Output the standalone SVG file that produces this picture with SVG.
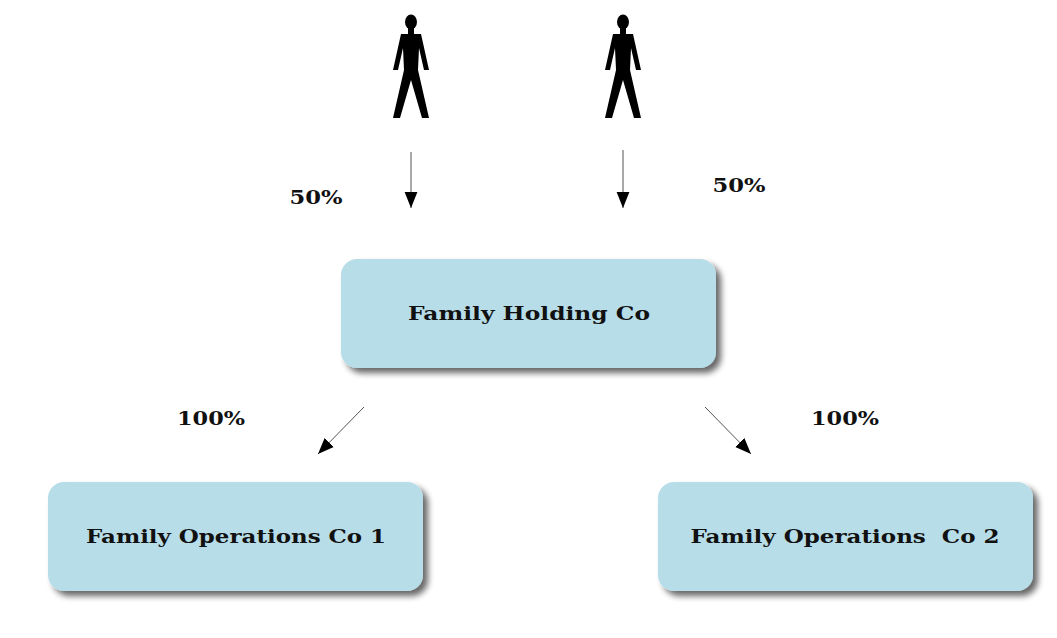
<svg xmlns="http://www.w3.org/2000/svg" width="1057" height="638" viewBox="0 0 1057 638">
<style>
text{font-family:"DejaVu Serif","Liberation Serif",serif;font-weight:bold;font-size:19px;fill:#111;text-anchor:middle}
.box{fill:#b7dde8}
.c{stroke:#555;stroke-width:1;fill:none;marker-end:url(#ah)}
</style>
<defs>
<marker id="ah" viewBox="0 0 10 10" refX="10" refY="5" markerWidth="16" markerHeight="16" markerUnits="userSpaceOnUse" orient="auto"><path d="M0,1 L10,5 L0,9 Z" fill="#000"/></marker>
<filter id="sh" x="-10%" y="-10%" width="130%" height="140%"><feGaussianBlur in="SourceAlpha" stdDeviation="3"/><feOffset dx="5" dy="5"/><feComponentTransfer><feFuncA type="linear" slope="0.6"/></feComponentTransfer><feMerge><feMergeNode/><feMergeNode in="SourceGraphic"/></feMerge></filter>
<g id="person"><ellipse cx="0" cy="7" rx="6" ry="7.5"/><rect x="-3" y="12" width="6" height="8"/><path d="M-10,19 L10,19 L18,55 L13,55 L8,33 L7,55 L18,103 L11,103 L0,65 L-11,103 L-18,103 L-7,55 L-8,33 L-13,55 L-18,55 Z"/></g>
</defs>
<rect width="1057" height="638" fill="#fff"/>
<g id="p1"><use href="#person" x="411" y="15"/></g>
<g id="p2"><use href="#person" x="623" y="15"/></g>
<g id="holding"><rect class="box" x="341" y="259" width="375" height="109" rx="16" filter="url(#sh)"/><text x="529" y="320" textLength="242" lengthAdjust="spacingAndGlyphs">Family Holding Co</text></g>
<g id="op1"><rect class="box" x="48" y="482" width="375" height="109" rx="16" filter="url(#sh)"/><text x="236" y="543" textLength="300" lengthAdjust="spacingAndGlyphs">Family Operations Co 1</text></g>
<g id="op2"><rect class="box" x="658" y="482" width="375" height="109" rx="16" filter="url(#sh)"/><text x="845" y="543" xml:space="preserve" textLength="309" lengthAdjust="spacingAndGlyphs">Family Operations  Co 2</text></g>
<g id="connectors">
<line class="c" x1="411" y1="152" x2="411" y2="208"/>
<line class="c" x1="623" y1="150" x2="623" y2="208"/>
<line class="c" x1="364" y1="407" x2="318" y2="454"/>
<line class="c" x1="705" y1="407" x2="751" y2="454"/>
</g>
<g id="labels">
<text x="316" y="204" textLength="53" lengthAdjust="spacingAndGlyphs">50%</text>
<text x="739" y="192" textLength="53" lengthAdjust="spacingAndGlyphs">50%</text>
<text x="211" y="425" textLength="68" lengthAdjust="spacingAndGlyphs">100%</text>
<text x="845" y="425" textLength="68" lengthAdjust="spacingAndGlyphs">100%</text>
</g>
</svg>
